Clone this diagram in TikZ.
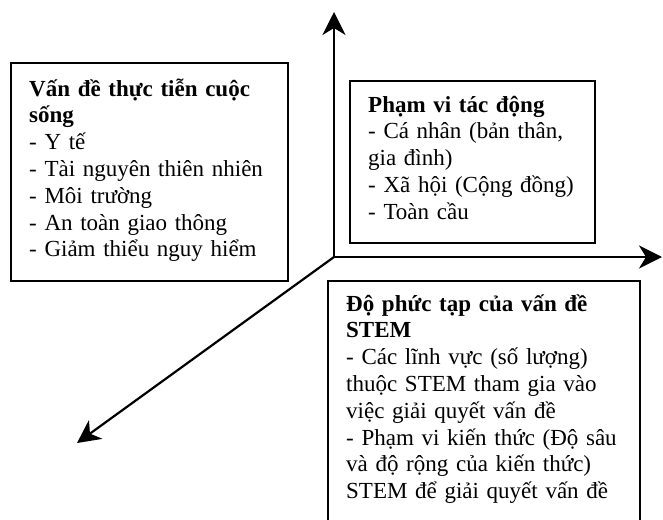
\documentclass[tikz,border=0pt]{standalone}
\usepackage{fontspec}
\setmainfont{Liberation Serif}
\usetikzlibrary{arrows.meta}
\newcommand\boxtextfont{\fontsize{23}{26.8}\selectfont\lineskiplimit=-100pt\relax\lineskip=0pt\relax}
\tikzset{
  frame/.style={draw, line width=1.7pt, rectangle, inner sep=0pt, anchor=north west},
  body/.style={anchor=base west, inner sep=0pt, text width=300pt, align=left,
    font=\boxtextfont},
  axis/.style={line width=2.2pt, -{Stealth[length=23pt,width=23pt,inset=7pt]}}
}
\begin{document}
\begin{tikzpicture}[x=1pt,y=-1pt]
\useasboundingbox (0,0) rectangle (663,519);
\begin{scope}
\clip (0,0) rectangle (663,519);
% axes from the common origin
\coordinate (O) at (334,257);
\coordinate (up) at (334,12);
\coordinate (right) at (662,257);
\coordinate (down) at (77,443);
\draw[axis] (O) -- (up);
\draw[axis] (O) -- (right);
\draw[axis] (O) -- (down);

% left box
\node[frame, minimum width=277pt, minimum height=218pt] (lifebox) at (10,62) {};
\node[body] (lifetext) at (29,96) {\textbf{Vấn đề thực tiễn cuộc}\\\textbf{sống}\\- Y tế\\- Tài nguyên thiên nhiên\\- Môi trường\\- An toàn giao thông\\- Giảm thiểu nguy hiểm};

% upper right box
\node[frame, minimum width=245pt, minimum height=162pt] (scopebox) at (349,80) {};
\node[body] (scopetext) at (368,112) {\textbf{Phạm vi tác động}\\- Cá nhân (bản thân,\\gia đình)\\- Xã hội (Cộng đồng)\\- Toàn cầu};

% lower box, running past the bottom edge
\node[frame, minimum width=312pt, minimum height=270pt] (stembox) at (327,280) {};
\node[body] (stemtext) at (346,311) {\textbf{Độ phức tạp của vấn đề}\\\textbf{STEM}\\- Các lĩnh vực (số lượng)\\thuộc STEM tham gia vào\\việc giải quyết vấn đề\\- Phạm vi kiến thức (Độ sâu\\và độ rộng của kiến thức)\\STEM để giải quyết vấn đề};
\end{scope}
\end{tikzpicture}
\end{document}
